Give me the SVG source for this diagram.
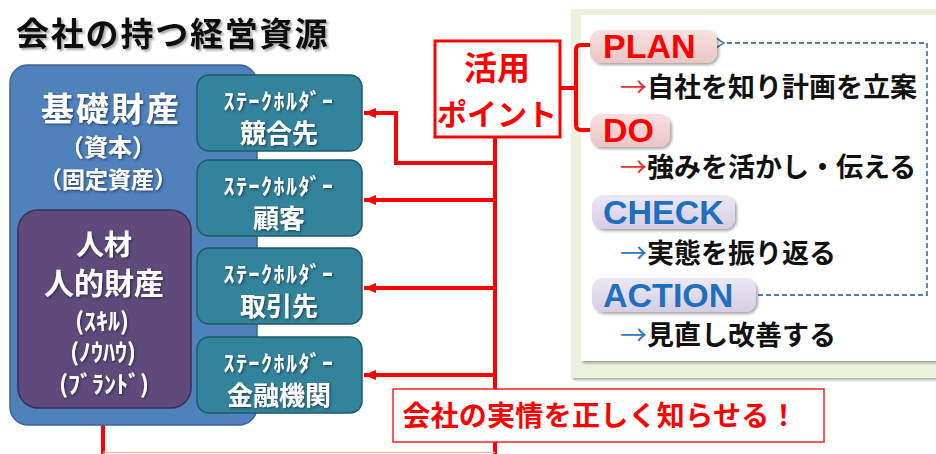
<svg xmlns="http://www.w3.org/2000/svg" width="936" height="454" viewBox="0 0 936 454">
<defs>
<style>
.jp{font-family:"Noto Sans CJK JP","Liberation Sans",sans-serif;font-weight:700}
.lat{font-family:"Liberation Sans","Noto Sans CJK JP",sans-serif;font-weight:700}
.wt{fill:#ffffff;text-anchor:middle;dominant-baseline:central}
.red{stroke:#ff0000;stroke-width:4;fill:none}
.teal{fill:#31849b;stroke:#1f5a6a;stroke-width:1.5}
</style>
<filter id="ts" x="-10%" y="-20%" width="130%" height="150%">
<feDropShadow dx="1.2" dy="1.2" stdDeviation="0.8" flood-color="#1a2030" flood-opacity="0.7"/>
</filter>
<filter id="tshadow" x="-5%" y="-20%" width="120%" height="160%">
<feDropShadow dx="2" dy="2" stdDeviation="1.2" flood-color="#000" flood-opacity="0.35"/>
</filter>
<filter id="bs" x="-10%" y="-10%" width="130%" height="130%">
<feDropShadow dx="2" dy="2" stdDeviation="1.5" flood-color="#000" flood-opacity="0.35"/>
</filter>
<linearGradient id="pink" x1="0" y1="0" x2="0" y2="1">
<stop offset="0" stop-color="#f7e1e0"/><stop offset="1" stop-color="#ebc5c4"/>
</linearGradient>
<linearGradient id="lav" x1="0" y1="0" x2="0" y2="1">
<stop offset="0" stop-color="#ece8f3"/><stop offset="1" stop-color="#d6cde4"/>
</linearGradient>
<marker id="ah" viewBox="0 0 12 10" refX="12" refY="5" markerWidth="12" markerHeight="10" markerUnits="userSpaceOnUse" orient="auto">
<path d="M0,0 L12,5 L0,10 z" fill="#ff0000"/>
</marker>
<marker id="oh" viewBox="0 0 10 12" refX="1" refY="6" markerWidth="10" markerHeight="12" markerUnits="userSpaceOnUse" orient="auto-start-reverse">
<path d="M9,1 L1,6 L9,11" fill="none" stroke="#4a7ebb" stroke-width="1.6"/>
</marker>
</defs>
<rect width="936" height="454" fill="#ffffff"/>

<g id="title">
<text x="16" y="32" class="jp" font-size="33" fill="#111" dominant-baseline="central" letter-spacing="1.8" filter="url(#tshadow)">会社の持つ経営資源</text>
</g>

<g id="right-panel">
<rect x="571" y="9" width="372" height="369" fill="#edf2de" filter="url(#bs)"/>
<rect x="581" y="15" width="362" height="346" fill="#ffffff" filter="url(#bs)"/>
</g>

<g id="connectors">
<path class="red" d="M495,137 V454"/>
<path class="red" d="M495,163 H396 V113 H364" marker-end="url(#ah)"/>
<path class="red" d="M495,200 H364" marker-end="url(#ah)"/>
<path class="red" d="M495,288 H364" marker-end="url(#ah)"/>
<path class="red" d="M495,375 H364" marker-end="url(#ah)"/>
<path class="red" d="M103,454 V410" marker-end="url(#ah)"/>
<path d="M103,452.5 H495" stroke="#f5b8b8" stroke-width="1.5" fill="none"/>
<path class="red" stroke-width="3.5" d="M560,88 H576"/>
<path class="red" stroke-width="3.5" d="M591,45 H581 Q576,45 576,50 V125 Q576,130 581,130 H591"/>
<path d="M758,295 H927 V43 H724" fill="none" stroke="#4a7ebb" stroke-width="1.8" stroke-dasharray="5,3" marker-end="url(#oh)"/>
</g>

<g id="base-assets">
<rect x="10" y="65" width="247" height="360" rx="18" fill="#4f81bd" stroke="#3b6597" stroke-width="1.5"/>
<g filter="url(#ts)">
<text x="111" y="107" class="jp wt" font-size="33" letter-spacing="2">基礎財産</text>
<text x="108" y="145" class="jp wt" font-size="24">（資本）</text>
<text x="108" y="178" class="jp wt" font-size="23">（固定資産）</text>
</g>
</g>

<g id="human-assets">
<rect x="18" y="210" width="173" height="198" rx="20" fill="#5f4a7b" stroke="#3e2f55" stroke-width="1.5"/>
<g filter="url(#ts)">
<text x="104" y="243" class="jp wt" font-size="28">人材</text>
<text x="104" y="281" class="jp wt" font-size="30">人的財産</text>
<text x="102" y="319" class="jp wt" font-size="24">(ｽｷﾙ)</text>
<text x="103" y="350" class="jp wt" font-size="24">(ﾉｳﾊｳ)</text>
<text x="104" y="382" class="jp wt" font-size="24">(ﾌﾞﾗﾝﾄﾞ)</text>
</g>
</g>

<g id="sh-competitor">
<rect class="teal" x="197" y="75" width="165" height="76" rx="12"/>
<g filter="url(#ts)">
<text x="279" y="99" class="jp wt" font-size="22" letter-spacing="1.5">ｽﾃｰｸﾎﾙﾀﾞｰ</text>
<text x="279" y="131" class="jp wt" font-size="26">競合先</text>
</g>
</g>

<g id="sh-customer">
<rect class="teal" x="197" y="160" width="165" height="76" rx="12"/>
<g filter="url(#ts)">
<text x="279" y="184" class="jp wt" font-size="22" letter-spacing="1.5">ｽﾃｰｸﾎﾙﾀﾞｰ</text>
<text x="279" y="216" class="jp wt" font-size="26">顧客</text>
</g>
</g>

<g id="sh-supplier">
<rect class="teal" x="197" y="248" width="165" height="76" rx="12"/>
<g filter="url(#ts)">
<text x="279" y="272" class="jp wt" font-size="22" letter-spacing="1.5">ｽﾃｰｸﾎﾙﾀﾞｰ</text>
<text x="279" y="304" class="jp wt" font-size="26">取引先</text>
</g>
</g>

<g id="sh-bank">
<rect class="teal" x="197" y="337" width="165" height="76" rx="12"/>
<g filter="url(#ts)">
<text x="279" y="361" class="jp wt" font-size="22" letter-spacing="1.5">ｽﾃｰｸﾎﾙﾀﾞｰ</text>
<text x="279" y="393" class="jp wt" font-size="26">金融機関</text>
</g>
</g>

<g id="katsuyo-point">
<rect x="435" y="41" width="125" height="96" fill="#ffffff" stroke="#ff0000" stroke-width="3"/>
<text x="497" y="66" class="jp" font-size="33" fill="#ff0000" text-anchor="middle" dominant-baseline="central">活用</text>
<text x="497" y="112" class="jp" font-size="30" fill="#ff0000" text-anchor="middle" dominant-baseline="central">ポイント</text>
</g>

<g id="message">
<rect x="393" y="389" width="431" height="53" fill="#ffffff" stroke="#ff2020" stroke-width="1.5"/>
<text x="600" y="414" class="jp" font-size="28" fill="#ff0000" text-anchor="middle" dominant-baseline="central" letter-spacing="0.3">会社の実情を正しく知らせる！</text>
</g>

<g id="plan">
<rect x="590" y="30" width="127" height="33" rx="11" fill="url(#pink)" filter="url(#bs)"/>
<text x="603" y="46" class="lat" font-size="34" fill="#ff0000" dominant-baseline="central">PLAN</text>
<text x="620" y="85" class="jp" font-size="27" fill="#111" dominant-baseline="central"><tspan fill="#e83030" font-weight="400">→</tspan>自社を知り計画を立案</text>
</g>

<g id="do">
<rect x="590" y="114" width="80" height="33" rx="11" fill="url(#pink)" filter="url(#bs)"/>
<text x="603" y="130" class="lat" font-size="34" fill="#ff0000" dominant-baseline="central">DO</text>
<text x="620" y="165" class="jp" font-size="27" fill="#111" dominant-baseline="central"><tspan fill="#e83030" font-weight="400">→</tspan>強みを活かし・伝える</text>
</g>

<g id="check">
<rect x="592" y="195" width="143" height="34" rx="11" fill="url(#lav)" filter="url(#bs)"/>
<text x="603" y="212" class="lat" font-size="34" fill="#1f6fc0" dominant-baseline="central">CHECK</text>
<text x="620" y="251" class="jp" font-size="27" fill="#111" dominant-baseline="central"><tspan fill="#2f78c8" font-weight="400">→</tspan>実態を振り返る</text>
</g>

<g id="action">
<rect x="592" y="278" width="164" height="34" rx="11" fill="url(#lav)" filter="url(#bs)"/>
<text x="603" y="295" class="lat" font-size="34" fill="#1f6fc0" dominant-baseline="central">ACTION</text>
<text x="620" y="333" class="jp" font-size="27" fill="#111" dominant-baseline="central"><tspan fill="#2f78c8" font-weight="400">→</tspan>見直し改善する</text>
</g>
</svg>
